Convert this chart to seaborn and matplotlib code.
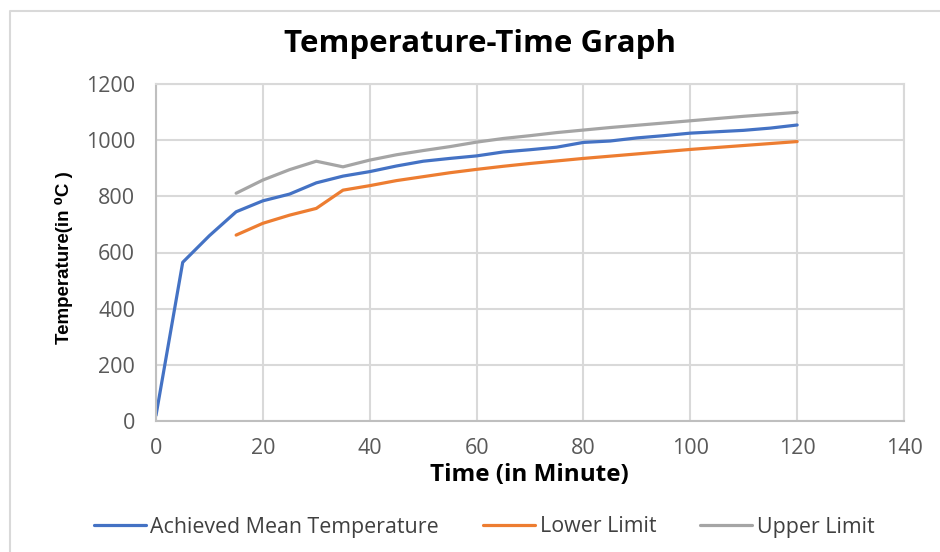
import matplotlib
matplotlib.use("Agg")
import matplotlib.pyplot as plt
from matplotlib.lines import Line2D
import pandas as pd
import seaborn as sns

# Données (minutes, °C)
time_mean = [0, 5, 10, 15, 20, 25, 30, 35, 40, 45, 50, 55, 60, 65, 70, 75,
             80, 85, 90, 95, 100, 105, 110, 115, 120]
achieved_mean = [20, 565, 660, 745, 784, 808, 848, 872, 888, 908, 925, 935,
                 944, 958, 966, 975, 992, 997, 1008, 1016, 1025, 1030, 1035,
                 1043, 1054]

time_limits = [15, 20, 25, 30, 35, 40, 45, 50, 55, 60, 65, 70, 75, 80, 85,
               90, 95, 100, 105, 110, 115, 120]
lower_limit = [662, 704, 733, 757, 822, 838, 856, 870, 884, 896, 907, 917,
               926, 935, 943, 951, 959, 967, 974, 981, 988, 995]
upper_limit = [811, 858, 895, 925, 905, 929, 948, 963, 977, 993, 1006, 1016,
               1027, 1036, 1045, 1053, 1061, 1069, 1077, 1085, 1092, 1099]

series_names = ["Achieved Mean Temperature", "Lower Limit", "Upper Limit"]
colors = ["#4472C4", "#ED7D31", "#A5A5A5"]
x_ticks = [0, 20, 40, 60, 80, 100, 120, 140]
y_ticks = [0, 200, 400, 600, 800, 1000, 1200]

sns.set_theme(style="white")
plt.rcParams['font.family'] = ['Open Sans', 'DejaVu Sans']

df = pd.concat([
    pd.DataFrame({"Time": time_mean, "Temp": achieved_mean, "Serie": series_names[0]}),
    pd.DataFrame({"Time": time_limits, "Temp": lower_limit, "Serie": series_names[1]}),
    pd.DataFrame({"Time": time_limits, "Temp": upper_limit, "Serie": series_names[2]}),
])

fig = plt.figure(figsize=(9.4, 5.52), dpi=100)
ax = fig.add_axes([156 / 940, 1 - 421 / 552, (904 - 156) / 940, (421 - 84) / 552])

sns.lineplot(data=df, x="Time", y="Temp", hue="Serie", hue_order=series_names,
             palette=colors, linewidth=2.3, ax=ax, legend=False, sort=False)

ax.set_xlim(0, 140)
ax.set_ylim(0, 1200)
ax.set_xticks(x_ticks)
ax.set_yticks(y_ticks)
ax.grid(True, color="#D9D9D9", linewidth=1.5)
for s in ax.spines.values():
    s.set_color("#D9D9D9")
    s.set_linewidth(1.5)
ax.spines["left"].set_color("#BFBFBF")
ax.spines["bottom"].set_color("#BFBFBF")
ax.tick_params(axis="both", length=0, labelsize=15.5, labelcolor="#595959")
ax.tick_params(axis="y", pad=15)
ax.tick_params(axis="x", pad=12)

ax.set_xlabel("")
ax.set_ylabel("")
fig.text(529 / 940, 1 - 475 / 552, "Time (in Minute)", ha="center", va="center",
         fontsize=17.5, fontweight="bold", color="black")
fig.text(64 / 940, 1 - 258 / 552, "Temperature(in \u2070C )", ha="center", va="center",
         rotation=90, fontsize=13.5, fontweight="bold", color="black",
         family=["Liberation Sans", "DejaVu Sans"])
fig.text(480 / 940, 1 - 44 / 552, "Temperature-Time Graph", ha="center", va="center",
         fontsize=22.5, fontweight="bold", color="black")

handles = [Line2D([], [], color=c, linewidth=2.3) for c in colors]
fig.legend(handles, series_names, loc="center", bbox_to_anchor=(484 / 940, 1 - 527 / 552),
           ncol=3, frameon=False, fontsize=15.4, handlelength=2.45, handletextpad=0.2,
           columnspacing=2.05, labelcolor="#404040")

# Cadre extérieur du graphique
fig.add_artist(Line2D([10 / 940, 10 / 940, 1.0], [0.0, 1 - 11 / 552, 1 - 11 / 552],
                      transform=fig.transFigure, color="#D9D9D9", linewidth=1.5))

fig.savefig("out.png", dpi=100)
